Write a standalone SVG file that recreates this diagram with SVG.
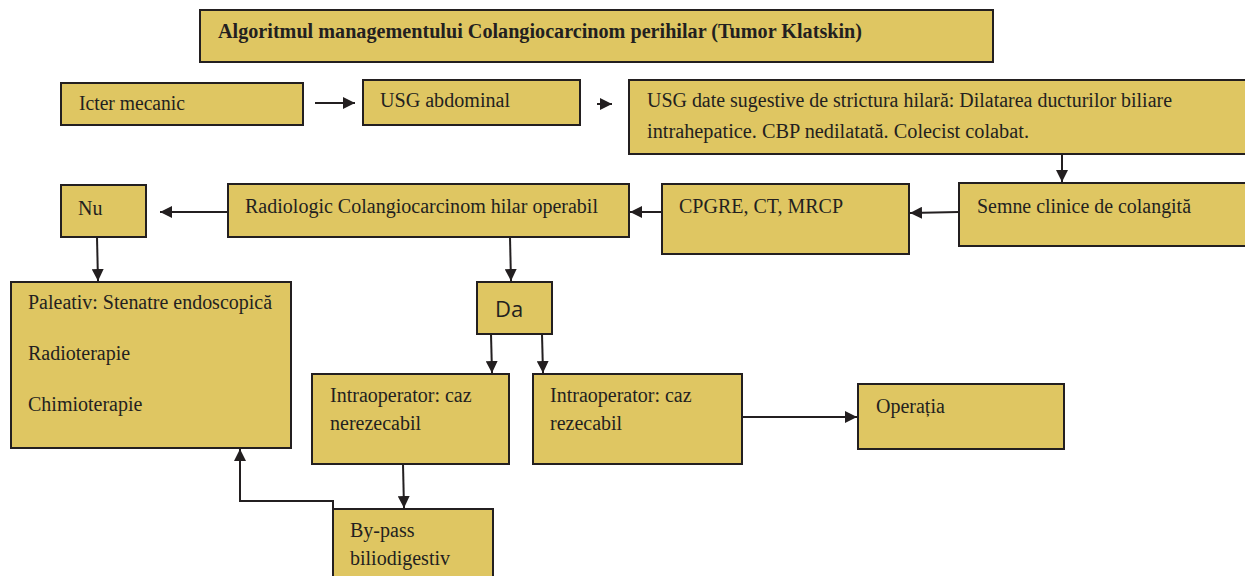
<svg xmlns="http://www.w3.org/2000/svg" width="1245" height="576" viewBox="0 0 1245 576">
  <style>
    .box { fill: #DFC662; stroke: #231F20; stroke-width: 2; }
    .t { font-family: "Liberation Serif", "Times New Roman", serif; font-size: 20px; fill: #231F20; }
    .title { font-weight: bold; font-size: 20px; }
    .sans { font-family: "Open Sans", "Liberation Sans", sans-serif; font-size: 22px; fill: #231F20; }
    .conn { fill: none; stroke: #231F20; stroke-width: 2; }
  </style>
  <defs>
    <marker id="arrow" viewBox="0 0 10 10" refX="10" refY="5" markerWidth="6" markerHeight="6" markerUnits="strokeWidth" orient="auto">
      <path d="M0,0 L10,5 L0,10 Z" fill="#231F20"/>
    </marker>
  </defs>

  <rect width="1245" height="576" fill="#FFFFFF"/>

  <g id="title">
    <rect class="box" x="200" y="10" width="793" height="52"/>
    <text class="t title" x="218" y="38" textLength="644" lengthAdjust="spacingAndGlyphs">Algoritmul managementului Colangiocarcinom perihilar (Tumor Klatskin)</text>
  </g>

  <g id="icter">
    <rect class="box" x="61" y="83" width="242" height="42"/>
    <text class="t" x="79" y="110" textLength="106" lengthAdjust="spacingAndGlyphs">Icter mecanic</text>
  </g>

  <g id="usg-abdominal">
    <rect class="box" x="363" y="80" width="217" height="45"/>
    <text class="t" x="380" y="107" textLength="130" lengthAdjust="spacingAndGlyphs">USG abdominal</text>
  </g>

  <g id="usg-date">
    <rect class="box" x="629" y="80" width="630" height="74"/>
    <text class="t" x="647" y="107" textLength="525" lengthAdjust="spacingAndGlyphs">USG date sugestive de strictura hilară: Dilatarea ducturilor biliare</text>
    <text class="t" x="647" y="138" textLength="382" lengthAdjust="spacingAndGlyphs">intrahepatice. CBP  nedilatată. Colecist colabat.</text>
  </g>

  <g id="semne">
    <rect class="box" x="959" y="183" width="300" height="63"/>
    <text class="t" x="977" y="213" textLength="214" lengthAdjust="spacingAndGlyphs">Semne clinice de colangită</text>
  </g>

  <g id="cpgre">
    <rect class="box" x="662" y="184" width="247" height="70"/>
    <text class="t" x="679" y="213" textLength="164" lengthAdjust="spacingAndGlyphs">CPGRE, CT, MRCP</text>
  </g>

  <g id="radiologic">
    <rect class="box" x="228" y="184" width="401" height="53"/>
    <text class="t" x="245" y="213" textLength="353" lengthAdjust="spacingAndGlyphs">Radiologic Colangiocarcinom hilar operabil</text>
  </g>

  <g id="nu">
    <rect class="box" x="61" y="185" width="85" height="52"/>
    <text class="t" x="78" y="215">Nu</text>
  </g>

  <g id="paleativ">
    <rect class="box" x="11" y="282" width="280" height="166"/>
    <text class="t" x="28" y="309" textLength="244" lengthAdjust="spacingAndGlyphs">Paleativ: Stenatre endoscopică</text>
    <text class="t" x="28" y="360">Radioterapie</text>
    <text class="t" x="28" y="411">Chimioterapie</text>
  </g>

  <g id="da">
    <rect class="box" x="477" y="282" width="75" height="52"/>
    <text class="sans" x="495" y="317">Da</text>
  </g>

  <g id="nerezecabil">
    <rect class="box" x="312" y="374" width="197" height="90"/>
    <text class="t" x="330" y="402">Intraoperator: caz</text>
    <text class="t" x="330" y="430">nerezecabil</text>
  </g>

  <g id="rezecabil">
    <rect class="box" x="533" y="374" width="209" height="90"/>
    <text class="t" x="550" y="402">Intraoperator: caz</text>
    <text class="t" x="550" y="430">rezecabil</text>
  </g>

  <g id="operatia">
    <rect class="box" x="858" y="384" width="206" height="65"/>
    <text class="t" x="876" y="413">Operația</text>
  </g>

  <g id="bypass">
    <rect class="box" x="333" y="509" width="160" height="80"/>
    <text class="t" x="350" y="537">By-pass</text>
    <text class="t" x="350" y="565">biliodigestiv</text>
  </g>

  <g id="connectors">
    <path class="conn" d="M315,103 L355,103" marker-end="url(#arrow)"/>
    <path class="conn" d="M597,104 L612,104" marker-end="url(#arrow)"/>
    <path class="conn" d="M1062,154 L1062,182" marker-end="url(#arrow)"/>
    <path class="conn" d="M959,212 L910,213" marker-end="url(#arrow)"/>
    <path class="conn" d="M662,212 L630,212" marker-end="url(#arrow)"/>
    <path class="conn" d="M228,212 L160,212" marker-end="url(#arrow)"/>
    <path class="conn" d="M97,237 L98,281" marker-end="url(#arrow)"/>
    <path class="conn" d="M510,237 L511,281" marker-end="url(#arrow)"/>
    <path class="conn" d="M491,334 L492,373" marker-end="url(#arrow)"/>
    <path class="conn" d="M542,334 L543,373" marker-end="url(#arrow)"/>
    <path class="conn" d="M742,417 L857,417" marker-end="url(#arrow)"/>
    <path class="conn" d="M403,464 L404,508" marker-end="url(#arrow)"/>
    <path class="conn" d="M333,509 L333,501 L240,501 L240,449" marker-end="url(#arrow)"/>
  </g>
</svg>
